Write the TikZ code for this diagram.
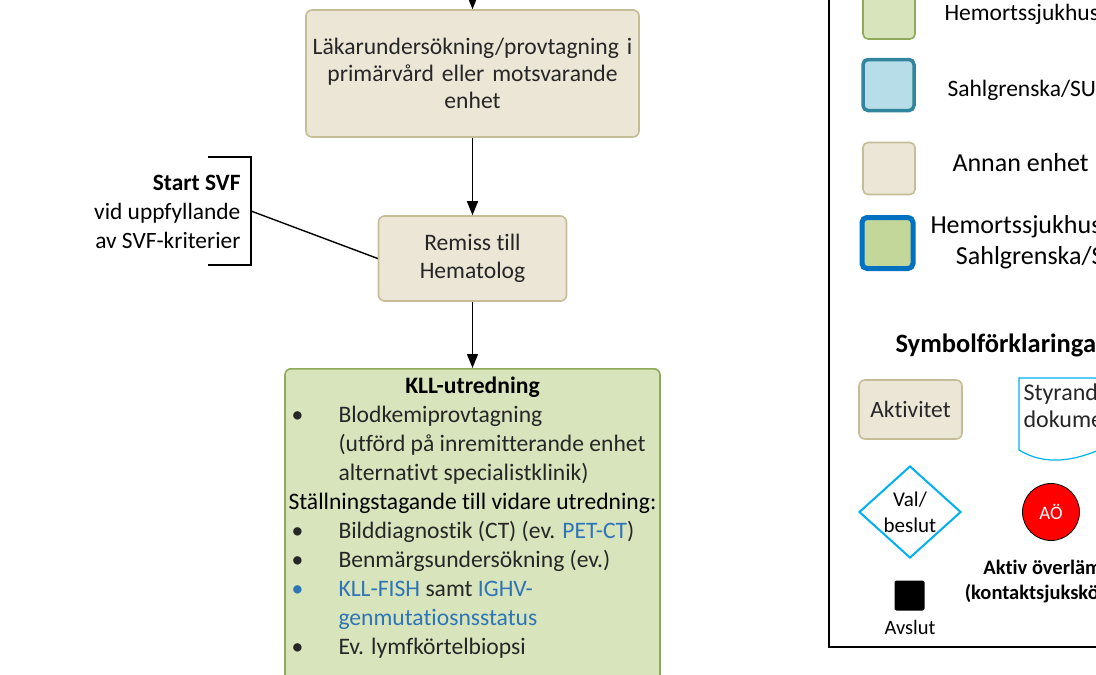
\documentclass[tikz,border=0pt]{standalone}
\usepackage{fontspec}
\setmainfont{Carlito}[Ligatures=NoCommon]
\usetikzlibrary{arrows.meta,shapes.geometric}
\definecolor{aktfill}{HTML}{ECE6D6}
\definecolor{aktdraw}{HTML}{C4BD97}
\definecolor{hemfill}{HTML}{D8E4BC}
\definecolor{hemdraw}{HTML}{8FAA5C}
\definecolor{sufill}{HTML}{B7DDE8}
\definecolor{sudraw}{HTML}{31859C}
\definecolor{bothfill}{HTML}{C4D79B}
\definecolor{bothdraw}{HTML}{0070C0}
\definecolor{styrdraw}{HTML}{00B0F0}
\definecolor{lank}{HTML}{2E75B6}
\definecolor{brodtext}{HTML}{262626}
\newcommand{\punkt}[1][brodtext]{\makebox[50pt][l]{\hspace{3pt}\textcolor{#1}{\textbullet}}}

\begin{document}
\begin{tikzpicture}
		[
			x=1pt, y=-1pt,
			% Make a style for an activity box.
			aktbox/.style={draw=aktdraw, fill=aktfill, line width=1.6pt, rounded corners=6pt, align=center, text=brodtext},
			% And one for the KLL box.
			hembox/.style={draw=hemdraw, fill=hemfill, line width=1.6pt, rounded corners=6pt},
			% Squares of the legend.
			ruta/.style={minimum size=52pt, rounded corners=5pt, inner sep=0pt},
			% Arrows of the flow.
			pil/.style={-{Triangle[length=14pt,width=11pt]}, line width=1.4pt},
			tx/.style={font=\fontsize{#1}{28}\selectfont}
		]
			\useasboundingbox (0,0) rectangle (1096,675);
			\clip (0,0) rectangle (1096,675);

			% Flow.
			\coordinate (inn) at (472.5,-30);
			\node[aktbox, minimum width=333pt, minimum height=127pt, text width=325pt,
				font=\fontsize{23.6}{27}\selectfont] (lakare) at (472.5,73.5)
				{Läkarundersökning/provtagning i\\ primärvård eller motsvarande\\ enhet};
			\node[aktbox, minimum width=188pt, minimum height=85pt,
				font=\fontsize{23.6}{28.5}\selectfont] (remiss) at (472.5,258.5)
				{Remiss till\\ Hematolog};
			\node[hembox, anchor=north, minimum width=375pt,
				inner xsep=3.5pt, inner ysep=8pt, align=left, text=brodtext,
				font=\fontsize{23.6}{29}\selectfont] (kll) at (472.5,368)
				{\makebox[368pt]{\color{black}\bfseries KLL-utredning}\\
				\punkt Blodkemiprovtagning\\
				\hspace*{50pt}(utförd på inremitterande enhet\\
				\hspace*{50pt}alternativt specialistklinik)\\
				\textcolor{black}{Ställningstagande till vidare utredning:}\\
				\punkt Bilddiagnostik (CT) (ev. \textcolor{lank}{PET-CT})\\
				\punkt Benmärgsundersökning (ev.)\\
				\punkt[lank]\textcolor{lank}{KLL-FISH} samt \textcolor{lank}{IGHV-}\\
				\hspace*{50pt}\textcolor{lank}{genmutatiosnsstatus}\\
				\punkt Ev. lymfkörtelbiopsi\rule[-40pt]{0pt}{0pt}};

			\draw[pil] (inn) -- (lakare);
			\draw[pil] (lakare) -- (remiss);
			\draw[pil] (remiss) -- (kll);

			% SVF bracket.
			\node[anchor=east, align=right, font=\fontsize{23.4}{29}\selectfont] (svf) at (244,212)
				{\textbf{Start SVF}\\ vid uppfyllande\\ av SVF-kriterier};
			\coordinate (svfmid) at (251,211);
			\draw[line width=1.4pt] (208,157) -- (251,157) -- (251,265) -- (208,265);
			\draw[line width=1.4pt] (svfmid) -- (remiss.west);

			% Legend frame.
			\draw[line width=2.2pt] (829,-10) -- (829,647) -- (1120,647);

			\node[ruta, draw=hemdraw, fill=hemfill, line width=1.6pt] (lhem) at (889,13) {};
			\node[ruta, draw=sudraw, fill=sufill, line width=3.5pt, minimum size=51pt] (lsu) at (888.5,85) {};
			\node[ruta, draw=aktdraw, fill=aktfill, line width=1.6pt] (lannan) at (889,168.5) {};
			\node[ruta, draw=bothdraw, fill=bothfill, line width=5pt, minimum size=51pt] (lboth) at (887.5,243) {};

			\node[anchor=west, tx=23.5] (them) at (941,14) {Hemortssjukhus};
			\node[anchor=west, tx=23.5] (tsu) at (944,90) {Sahlgrenska/SU};
			\node[anchor=west, tx=26] (tannan) at (949,163) {Annan enhet};
			\node[anchor=west, align=center, font=\fontsize{26}{31}\selectfont] (tboth) at (927,242)
				{Hemortssjukhus och\\ Sahlgrenska/SU};

			\node[anchor=west, font=\fontsize{26.5}{30}\selectfont\bfseries] (rubrik) at (892,345) {Symbolförklaringar};

			\node[aktbox, minimum width=103pt, minimum height=59pt, tx=23.4] (akt) at (910.5,409.5) {Aktivitet};

			% Document symbol.
			\draw[styrdraw, line width=1.2pt, fill=white] (1019,378) -- (1019,450)
				.. controls (1045,466) and (1075,462) .. (1110,445) -- (1110,378) -- cycle;
			\node[anchor=north west, align=left, font=\fontsize{24}{27}\selectfont, text=brodtext] (styr) at (1020,380)
				{Styrande\\ dokument};

			\node[diamond, draw=styrdraw, line width=2pt, minimum width=102pt, minimum height=92pt,
				aspect=1.1, inner sep=0pt, align=center, font=\fontsize{21}{26}\selectfont] (val) at (910,512)
				{Val/\\ beslut};
			\node[circle, draw=black, fill=red, line width=0.8pt, minimum size=57pt, text=white, tx=19] (ao) at (1051,512) {AÖ};
			\node[align=center, font=\fontsize{20.5}{25}\selectfont\bfseries] (aotext) at (1061,581.5)
				{Aktiv överlämning\\ (kontaktsjuksköterska)};

			\node[fill=black, minimum size=30pt, rounded corners=2pt, inner sep=0pt] (slut) at (909.5,595.5) {};
			\node[tx=20.5] (tslut) at (910,627) {Avslut};
		\end{tikzpicture}
\end{document}
